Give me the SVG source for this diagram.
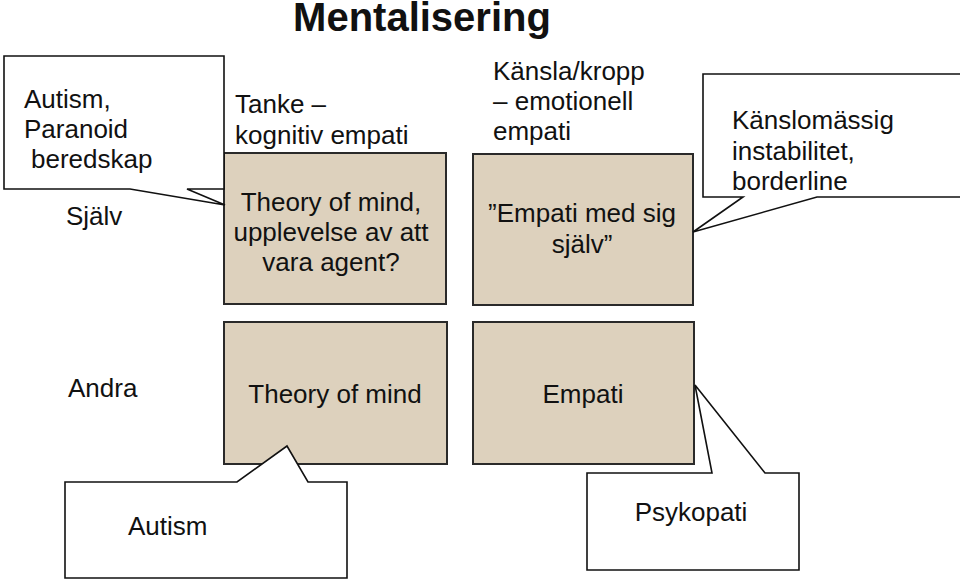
<svg xmlns="http://www.w3.org/2000/svg" width="960" height="581" viewBox="0 0 960 581">
<style>
text{font-family:"Liberation Sans",Arial,sans-serif;font-size:26px;fill:#111}
.title{font-size:40px;font-weight:bold;text-anchor:middle}
.mid{text-anchor:middle}
.box{fill:#DDD1BD;stroke:#2a2a2a;stroke-width:2}
.call{fill:#fff;stroke:#111;stroke-width:1.6;stroke-linejoin:miter}
</style>
<rect width="960" height="581" fill="#fff"/>
<g id="title"><text class="title" x="422" y="31">Mentalisering</text></g>
<g id="labels">
<text x="66" y="225">Själv</text>
<text x="68" y="397">Andra</text>
<text x="235" y="113">Tanke –</text>
<text x="235" y="144">kognitiv empati</text>
<text x="493" y="80">Känsla/kropp</text>
<text x="493" y="110">– emotionell</text>
<text x="493" y="140">empati</text>
</g>
<g id="box-tanke-sjalv">
<rect class="box" x="224" y="153" width="222" height="151"/>
<text class="mid" x="331" y="211">Theory of mind,</text>
<text class="mid" x="331" y="241">upplevelse av att</text>
<text class="mid" x="331" y="271">vara agent?</text>
</g>
<g id="box-kansla-sjalv">
<rect class="box" x="473" y="154" width="220" height="151"/>
<text class="mid" x="582" y="222">”Empati med sig</text>
<text class="mid" x="582" y="253">själv”</text>
</g>
<g id="box-tanke-andra">
<rect class="box" x="224" y="322" width="223" height="142"/>
<text class="mid" x="335" y="403">Theory of mind</text>
</g>
<g id="box-kansla-andra">
<rect class="box" x="473" y="322" width="221" height="142"/>
<text class="mid" x="583" y="403">Empati</text>
</g>
<g id="connectors"></g>
<g id="callout-autism-paranoid">
<polygon class="call" points="4,56 224,56 224,189 187,189 225,205 130,189 4,189"/>
<text x="24" y="108">Autism,</text>
<text x="24" y="138">Paranoid</text>
<text x="31" y="168">beredskap</text>
</g>
<g id="callout-borderline">
<polygon class="call" points="703,74 966,74 966,197 817,197 693,232 743,197 703,197"/>
<text x="732" y="129">Känslomässig</text>
<text x="732" y="160">instabilitet,</text>
<text x="732" y="190">borderline</text>
</g>
<g id="callout-autism">
<polygon class="call" points="65,482 237,482 287,446 308,482 347,482 347,578 65,578"/>
<text x="128" y="535">Autism</text>
</g>
<g id="callout-psykopati">
<polygon class="call" points="587,473 712,473 695,385 765,473 799,473 799,570 587,570"/>
<text class="mid" x="691" y="521">Psykopati</text>
</g>
</svg>
